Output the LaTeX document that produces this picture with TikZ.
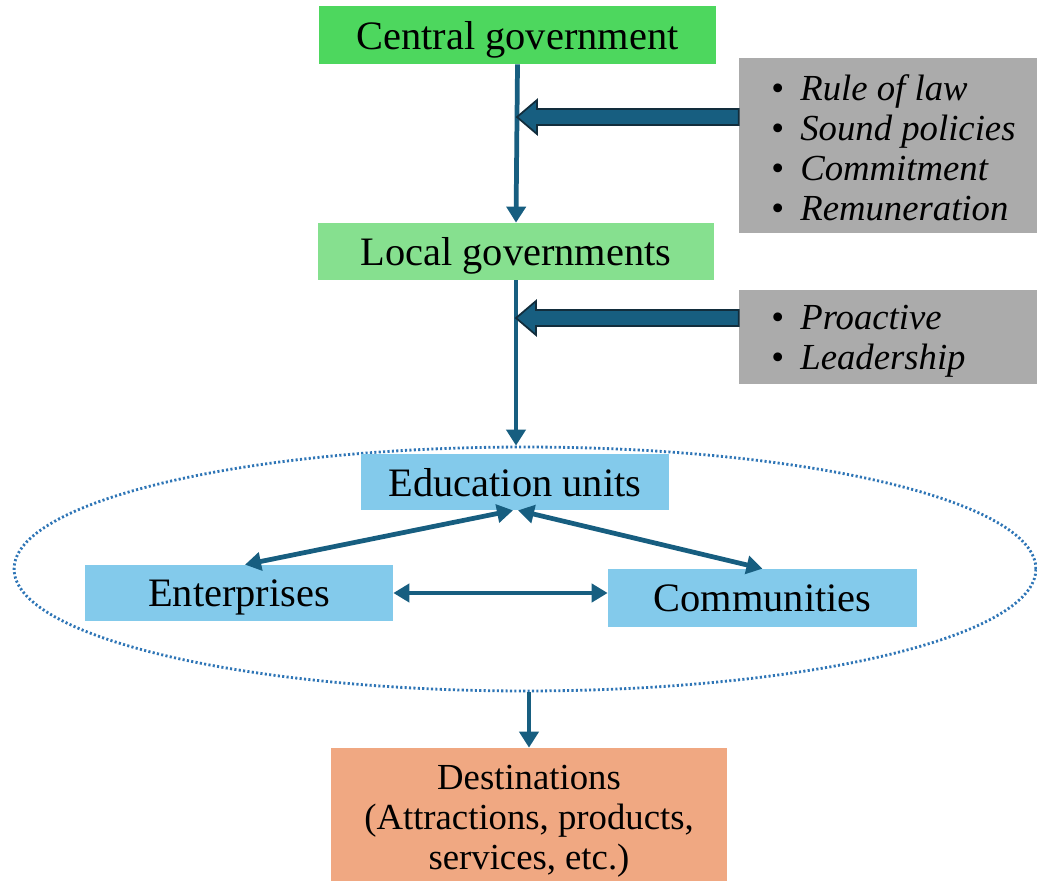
\documentclass[tikz,border=0pt]{standalone}
\usepackage{fontspec}
\setmainfont{Liberation Serif}
\usetikzlibrary{arrows.meta,calc,shapes.geometric}
\definecolor{cgreen}{RGB}{77,215,94}
\definecolor{lgreen}{RGB}{134,224,143}
\definecolor{sky}{RGB}{131,202,235}
\definecolor{grayb}{RGB}{171,171,171}
\definecolor{salmon}{RGB}{240,168,130}
\definecolor{arrowc}{RGB}{23,94,128}
\definecolor{arrowdark}{RGB}{18,45,60}
\definecolor{dotc}{RGB}{46,117,182}
\begin{document}
\begin{tikzpicture}[x=0.02cm,y=-0.02cm,
  box/.style={rectangle,inner sep=0pt,text depth=0pt,font=\fontsize{23}{27}\selectfont,align=center},
  graybox/.style={rectangle,inner sep=0pt,fill=grayb},
  listtext/.style={inner sep=0pt,align=left,anchor=west,font=\fontsize{20.9}{22.8}\selectfont},
  conn/.style={draw=arrowc,line width=2.7pt,-{Triangle[length=0.32cm,width=0.38cm]}},
  dconn/.style={draw=arrowc,line width=2.7pt,{Triangle[length=0.32cm,width=0.36cm]}-{Triangle[length=0.32cm,width=0.36cm]}},
  blockarrow/.style={fill=arrowc,draw=arrowdark,line width=1pt,line join=miter}]
\useasboundingbox (0,0) rectangle (1037,881);
\clip (0,0) rectangle (1037,881);

\node[box,fill=cgreen,minimum width=7.94cm,minimum height=1.16cm] (central) at (517.5,35) {Central government};
\node[box,fill=lgreen,minimum width=7.92cm,minimum height=1.14cm] (local) at (516,251.5) {Local governments};

\node[graybox,minimum width=5.96cm,minimum height=3.5cm] (g1) at (888,145.5) {};
\node[listtext] (l1) at (771,148) {\makebox[0.58cm][l]{•}\textit{Rule of law}\\\makebox[0.58cm][l]{•}\textit{Sound policies}\\\makebox[0.58cm][l]{•}\textit{Commitment}\\\makebox[0.58cm][l]{•}\textit{Remuneration}};
\node[graybox,minimum width=5.96cm,minimum height=1.88cm] (g2) at (888,337) {};
\node[listtext] (l2) at (771,341) {\makebox[0.58cm][l]{•}\textit{Proactive}\\\makebox[0.58cm][l]{•}\textit{Leadership}};

\node[ellipse,draw=dotc,line width=1.6pt,dash pattern=on 1.2pt off 1.3pt,minimum width=20.44cm,minimum height=4.88cm,inner sep=0pt] (ell) at (525,569) {};

\node[box,fill=sky,minimum width=6.16cm,minimum height=1.12cm] (edu) at (515,482) {Education units};
\node[box,fill=sky,minimum width=6.16cm,minimum height=1.12cm] (ent) at (239,593) {Enterprises};
\node[box,fill=sky,minimum width=6.18cm,minimum height=1.16cm] (com) at (762.5,598) {Communities};

\node[box,fill=salmon,minimum width=7.92cm,minimum height=2.78cm,font=\fontsize{20.9}{22.8}\selectfont] (dest) at (529,817.5) {Destinations\\(Attractions, products,\\services, etc.)};

% vertical connectors
\draw[conn] (central.south) -- (local.north);
\draw[conn] (local.south) -- (local.south |- ell.north);
\draw[conn] (dest.north |- ell.south) -- (dest.north);

% block arrows
\coordinate (t1) at ($(central.south)!0.333!(local.north)$);
\coordinate (a1) at (g1.west |- t1);
\draw[blockarrow] ($(a1)+(0,-8)$) -- ($(t1)+(20,-8)$) -- ($(t1)+(20,-17)$) -- (t1) -- ($(t1)+(20,17)$) -- ($(t1)+(20,8)$) -- ($(a1)+(0,8)$) -- cycle;
\coordinate (t2) at ($(local.south)!0.228!(local.south |- ell.north)$);
\coordinate (a2) at (g2.west |- t2);
\draw[blockarrow] ($(a2)+(0,-8)$) -- ($(t2)+(20,-8)$) -- ($(t2)+(20,-17)$) -- (t2) -- ($(t2)+(20,17)$) -- ($(t2)+(20,8)$) -- ($(a2)+(0,8)$) -- cycle;

% double connectors
\draw[dconn] ($(edu.south)+(-2,0)$) -- ($(ent.north)+(6,0)$);
\draw[dconn] ($(edu.south)+(3,0)$) -- (com.north);
\draw[dconn] (ent.east) -- (ent.east -| com.west);
\end{tikzpicture}
\end{document}
